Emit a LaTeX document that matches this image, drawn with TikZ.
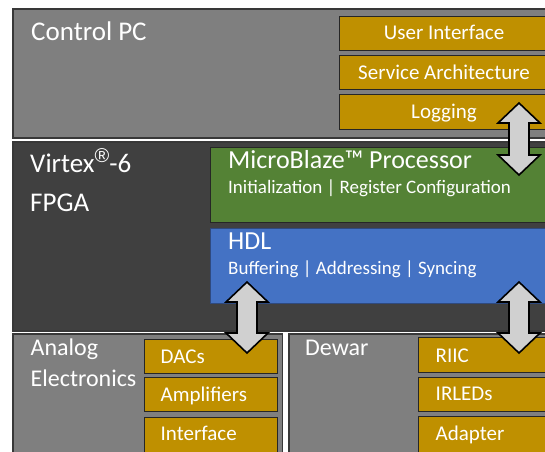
\documentclass[tikz,border=0pt]{standalone}
\usepackage{fontspec}
\setmainfont{Carlito}
\newfontfamily\markfont{Liberation Sans}
\usetikzlibrary{calc}
\definecolor{pcgray}{HTML}{7F7F7F}
\definecolor{fpgagray}{HTML}{404040}
\definecolor{edgegray}{HTML}{383838}
\definecolor{gold}{HTML}{BF9000}
\definecolor{mbgreen}{HTML}{548235}
\definecolor{hdlblue}{HTML}{4472C4}
\definecolor{hdledge}{HTML}{2F4A7F}
\definecolor{arrowgray}{HTML}{D0D0D0}
\newcommand{\regmark}{{\markfont\fontsize{20}{20}\selectfont\raisebox{10pt}{®}}}
% fat double arrow from tip #1 down to tip #2
\newcommand{\fatarrow}[2]{%
  \draw[fatarrow] let \p1=(#1), \p2=(#2) in
    (\x1,\y1) -- (\x1+21pt,\y1-20pt) -- (\x1+10pt,\y1-20pt)
    -- (\x1+10pt,\y2+20pt) -- (\x1+21pt,\y2+20pt) -- (\x1,\y2)
    -- (\x1-21pt,\y2+20pt) -- (\x1-10pt,\y2+20pt)
    -- (\x1-10pt,\y1-20pt) -- (\x1-21pt,\y1-20pt) -- cycle;}
\begin{document}
\begin{tikzpicture}[x=1pt,y=-1pt,
  panel/.style={draw=edgegray, line width=1.6pt, fill=pcgray, anchor=north west, inner sep=0pt},
  goldbox/.style={draw=black!85, line width=1.2pt, fill=gold, anchor=north west, inner sep=0pt},
  fpgabox/.style={draw=black!85, line width=1.2pt, anchor=north west, inner sep=0pt, minimum width=360pt, minimum height=75pt},
  title/.style={anchor=base west, inner sep=0pt, text=white, font=\fontsize{27}{32}\selectfont},
  subtitle/.style={anchor=base west, inner sep=0pt, text=white, font=\fontsize{24}{29}\selectfont},
  goldtxt/.style={inner sep=0pt, text=white, font=\fontsize{21}{25}\selectfont},
  smalltxt/.style={anchor=base west, inner sep=0pt, text=white, font=\fontsize{19}{23}\selectfont},
  fatarrow/.style={draw=black, line width=1.6pt, fill=arrowgray}]
\useasboundingbox (0,0) rectangle (545,451);
\fill[white] (0,0) rectangle (545,451);
\clip (0,0) rectangle (545,451);

% control PC
\node[panel, minimum width=560pt, minimum height=129pt] (pc) at (12,8) {};
\node[goldbox, minimum width=230pt, minimum height=34pt] (ui) at (339,16) {};
\node[goldbox, minimum width=230pt, minimum height=34pt] (sa) at (339,55) {};
\node[goldbox, minimum width=230pt, minimum height=35pt] (log) at (339,94) {};
\node[title] (pclbl) at (31,40) {Control PC};
\node[goldtxt, anchor=base] (uilbl) at (444,39.5) {User Interface};
\node[goldtxt, anchor=base] (salbl) at (444,79) {Service Architecture};
\node[goldtxt, anchor=base] (loglbl) at (444,118.5) {Logging};

% FPGA
\node[panel, fill=fpgagray, minimum width=560pt, minimum height=189pt] (fpga) at (12,141) {};
\node[fpgabox, fill=mbgreen] (mb) at (209.5,147) {};
\node[fpgabox, fill=hdlblue, draw=hdledge] (hdl) at (209.5,228) {};
\node[title] (virtex) at (30,172) {Virtex\regmark-6};
\node[title] (fpgalbl) at (30,211) {FPGA};
\node[title, font=\fontsize{26}{31}\selectfont] (mblbl) at (228,168) {MicroBlaze™ Processor};
\node[smalltxt] (mbsub) at (228,193) {Initialization | Register Configuration};
\node[title, font=\fontsize{26}{31}\selectfont] (hdllbl) at (228,249) {HDL};
\node[smalltxt] (hdlsub) at (228,274) {Buffering | Addressing | Syncing};

% analog electronics
\node[panel, minimum width=269.5pt, minimum height=140pt] (analog) at (12,333) {};
\node[goldbox, minimum width=133.5pt, minimum height=34pt] (dac) at (143.5,339) {};
\node[goldbox, minimum width=133.5pt, minimum height=34pt] (amp) at (143.5,377) {};
\node[goldbox, minimum width=133.5pt, minimum height=50pt] (intf) at (143.5,417) {};
\node[subtitle] (anlbl) at (30.5,355) {Analog};
\node[subtitle] (ellbl) at (30.5,386) {Electronics};
\node[goldtxt, anchor=base west] (daclbl) at (160.5,363) {DACs};
\node[goldtxt, anchor=base west] (amplbl) at (160.5,401.5) {Amplifiers};
\node[goldtxt, anchor=base west] (intflbl) at (160.5,440.5) {Interface};

% dewar
\node[panel, minimum width=280pt, minimum height=140pt] (dewar) at (288,333) {};
\node[goldbox, minimum width=150pt, minimum height=35pt] (riic) at (418,337) {};
\node[goldbox, minimum width=150pt, minimum height=34pt] (irled) at (418,377) {};
\node[goldbox, minimum width=150pt, minimum height=50pt] (adapt) at (418,416) {};
\node[subtitle] (dewlbl) at (305,355) {Dewar};
\node[goldtxt, anchor=base west] (riiclbl) at (435.5,362) {RIIC};
\node[goldtxt, anchor=base west] (irledlbl) at (435.5,400.5) {IRLEDs};
\node[goldtxt, anchor=base west] (adaptlbl) at (435.5,440) {Adapter};

% links
\coordinate (logtip) at (519,103);
\coordinate (mbtip) at (519,175);
\coordinate (hdltipL) at (247,282);
\coordinate (dactip) at (247,353);
\coordinate (hdltipR) at (519,282);
\coordinate (riictip) at (519,353);
\fatarrow{logtip}{mbtip}
\fatarrow{hdltipL}{dactip}
\fatarrow{hdltipR}{riictip}
\end{tikzpicture}
\end{document}
